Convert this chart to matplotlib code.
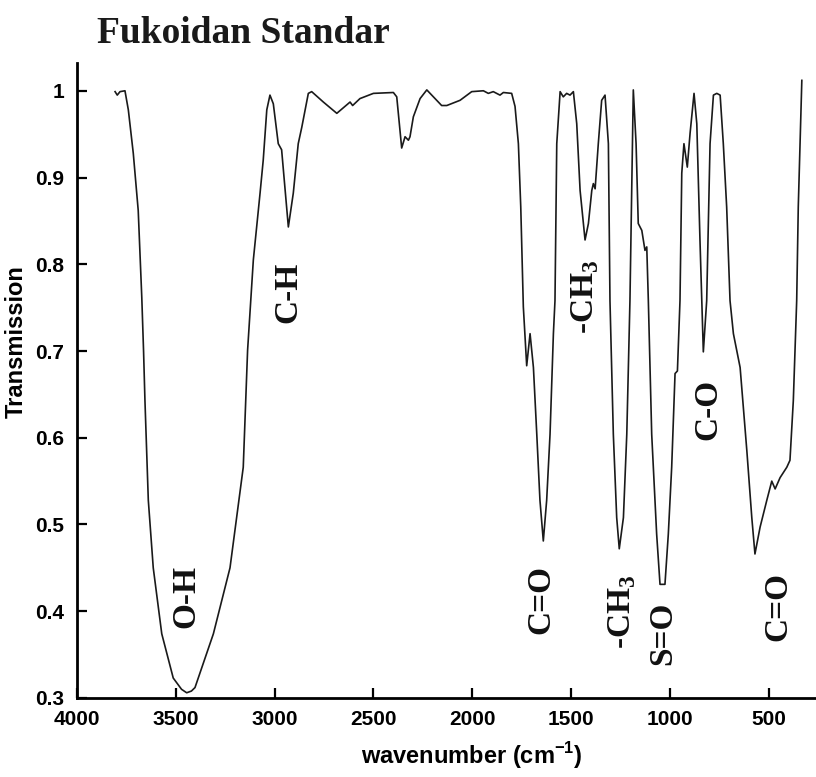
import matplotlib
matplotlib.use("Agg")
import numpy as np
from matplotlib import pyplot as plt

# FTIR spectrum (wavenumber in cm-1, transmission)
wavenumber = [3806, 3795, 3781, 3756, 3739, 3714, 3689, 3671, 3662, 3655,
              3638, 3613, 3570, 3512, 3470, 3444, 3420, 3402, 3309, 3225,
              3158, 3136, 3107, 3073, 3057, 3039, 3023, 3006, 2981, 2964,
              2930, 2905, 2880, 2862, 2829, 2812, 2753, 2685, 2618, 2605,
              2568, 2500, 2399, 2382, 2357, 2340, 2323, 2315, 2298, 2264,
              2230, 2155, 2129, 2062, 2003, 1944, 1919, 1894, 1860, 1843,
              1801, 1784, 1767, 1755, 1742, 1733, 1725, 1708, 1691, 1674,
              1658, 1641, 1624, 1607, 1590, 1582, 1573, 1556, 1540, 1523,
              1506, 1489, 1472, 1455, 1430, 1413, 1396, 1388, 1379, 1363,
              1346, 1329, 1312, 1304, 1287, 1270, 1257, 1236, 1219, 1203,
              1186, 1172, 1161, 1143, 1127, 1118, 1110, 1093, 1068, 1051,
              1026, 1009, 992, 975, 963, 950, 941, 930, 913, 899,
              879, 865, 849, 832, 815, 798, 781, 764, 747, 731,
              714, 697, 680, 646, 612, 587, 571, 545, 511, 486,
              469, 444, 410, 394, 377, 360, 352, 334]
transmission = [0.999, 0.995, 0.999, 1.000, 0.978, 0.928, 0.862, 0.762, 0.700, 0.643,
                0.528, 0.450, 0.374, 0.323, 0.310, 0.306, 0.308, 0.312, 0.374, 0.450,
                0.566, 0.701, 0.805, 0.882, 0.920, 0.978, 0.995, 0.985, 0.939, 0.932,
                0.843, 0.882, 0.939, 0.958, 0.997, 0.999, 0.987, 0.974, 0.987, 0.983,
                0.991, 0.997, 0.998, 0.993, 0.934, 0.947, 0.943, 0.947, 0.970, 0.991,
                1.001, 0.983, 0.983, 0.989, 0.999, 1.000, 0.997, 0.999, 0.995, 0.998,
                0.997, 0.982, 0.939, 0.866, 0.751, 0.716, 0.683, 0.720, 0.681, 0.604,
                0.528, 0.481, 0.528, 0.604, 0.720, 0.758, 0.939, 0.999, 0.993, 0.997,
                0.995, 0.999, 0.962, 0.885, 0.828, 0.847, 0.885, 0.893, 0.887, 0.939,
                0.989, 0.995, 0.939, 0.758, 0.604, 0.508, 0.472, 0.508, 0.604, 0.758,
                1.001, 0.939, 0.847, 0.839, 0.816, 0.820, 0.758, 0.604, 0.489, 0.431,
                0.431, 0.489, 0.566, 0.674, 0.677, 0.758, 0.905, 0.939, 0.912, 0.951,
                0.997, 0.962, 0.828, 0.699, 0.758, 0.939, 0.995, 0.997, 0.995, 0.939,
                0.866, 0.758, 0.720, 0.681, 0.585, 0.508, 0.466, 0.497, 0.528, 0.550,
                0.541, 0.554, 0.566, 0.574, 0.643, 0.758, 0.866, 1.012]

# band assignments: label, wavenumber, transmission of label centre
band_labels = ["O-H", "C-H", "-CH$_{\\mathregular{3}}$", "C=O",
               "-CH$_{\\mathregular{3}}$", "S=O", "C-O", "C=O"]
band_wn = [3447, 2931, 1429, 1653, 1241, 1039, 811, 457]
band_t = [0.417, 0.768, 0.763, 0.414, 0.399, 0.374, 0.633, 0.405]

x_ticks = [4000, 3500, 3000, 2500, 2000, 1500, 1000, 500]
y_ticks = [0.3, 0.4, 0.5, 0.6, 0.7, 0.8, 0.9, 1.0]
y_tick_labels = ["0.3", "0.4", "0.5", "0.6", "0.7", "0.8", "0.9", "1"]

sans = "Liberation Sans"
serif = "Liberation Serif"

fig = plt.figure(figsize=(8.16, 7.77), dpi=100)
ax = fig.add_axes([0.094, 0.1017, 0.9696, 0.8172])

ax.plot(wavenumber, transmission, color="#1a1a1a", lw=1.2)

ax.set_xlim(4000, 0)
ax.set_ylim(0.3, 1.032)

ax.spines["top"].set_visible(False)
ax.spines["right"].set_visible(False)
for side in ["left", "bottom"]:
    ax.spines[side].set_linewidth(2.0)

ax.set_xticks(x_ticks)
ax.set_xticklabels([str(v) for v in x_ticks])
ax.set_yticks(y_ticks)
ax.set_yticklabels(y_tick_labels)
ax.tick_params(direction="in", length=7, width=1.6, labelsize=15, pad=9)
for lbl in ax.get_xticklabels() + ax.get_yticklabels():
    lbl.set_fontfamily(sans)
    lbl.set_fontweight("bold")

ax.set_xlabel("wavenumber (cm$^{\\mathregular{-1}}$)", fontsize=17,
              fontweight="bold", family=sans, labelpad=8)
ax.set_ylabel("Transmission", fontsize=17, fontweight="bold", family=sans)
ax.yaxis.set_label_coords(-0.062, 0.561)

for lab, wn, t in zip(band_labels, band_wn, band_t):
    ax.text(wn, t, lab, rotation=90, ha="center", va="center",
            fontsize=24, fontweight="bold", family=serif, color="#111111")

fig.text(97 / 816, 1 - 43 / 777, "Fukoidan Standar", fontsize=27,
         fontweight="bold", family=serif, ha="left", va="baseline",
         color="#1a1a1a")

fig.savefig("out.png", dpi=100)
plt.close()
